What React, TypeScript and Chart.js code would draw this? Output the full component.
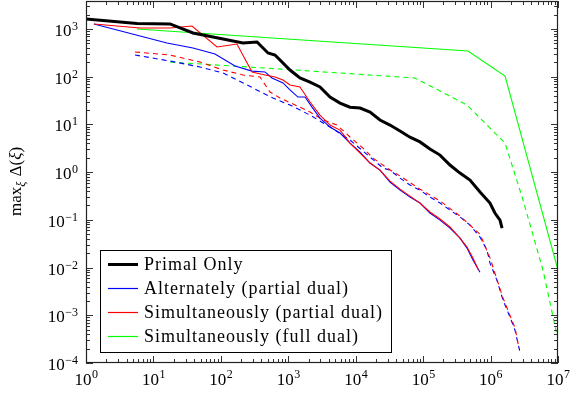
import React, { useEffect, useRef } from 'react';
import { Chart, registerables } from 'chart.js';

Chart.register(...registerables);

// ---- Data ----
const primalX = [1, 5.7, 17.6, 38.6, 213, 344, 500, 635, 753, 1060, 1490, 2100, 2950, 4160, 5850, 8230, 11600, 16300, 22900, 32200, 45400, 63800, 89800, 126000, 178000, 250000, 352000, 495000, 697000, 980000, 1160000, 1380000, 1480000];
const primalY = [1620, 1300, 1275, 825, 508, 533, 314, 285, 224, 138, 94, 77, 61, 37.5, 28, 23, 22, 18.2, 12.4, 9.7, 7.3, 5.4, 4.3, 3.05, 2.28, 1.41, 0.957, 0.68, 0.383, 0.225, 0.139, 0.099, 0.067];

const altX = [1.31, 15.9, 38.6, 81.9, 162, 290, 452, 573, 835, 1060, 1390, 1770, 2250, 2950, 4160, 5850, 8230, 11600, 16300, 22900, 32200, 45400, 63800, 89800, 126000, 178000, 250000, 352000, 447000, 548000, 697000];
const altY = [1275, 508, 400, 299, 168, 131, 126, 94, 74, 53, 37.5, 37.5, 23, 13.6, 8.8, 6.6, 4.07, 2.64, 1.55, 1.1, 0.62, 0.42, 0.30, 0.225, 0.139, 0.099, 0.067, 0.0415, 0.0256, 0.0144, 0.0080];

const simX = [1.31, 6.32, 17.6, 37.3, 87.7, 173, 290, 452, 635, 835, 1060, 1490, 2100, 2950, 4160, 5850, 8230, 11600, 16300, 22900, 32200, 45400, 63800, 89800, 126000, 178000, 250000, 352000, 447000, 548000, 660000];
const simY = [1275, 1050, 1050, 1155, 420, 485, 126, 109, 98.6, 85, 67, 61, 29.5, 15.7, 9.7, 7.6, 4.07, 2.51, 1.55, 1.1, 0.65, 0.44, 0.315, 0.225, 0.146, 0.104, 0.071, 0.0415, 0.027, 0.0158, 0.0089];

const fullX = [5.7, 463000, 1640000, 10000000];
const fullY = [1000, 346, 103.5, 0.0089];

const altDualX = [5.33, 17.6, 49.1, 108, 300, 594, 1060, 2100, 4160, 8230, 16300, 25400, 32200, 45400, 63800, 89800, 126000, 178000, 250000, 352000, 495000, 697000, 885000, 980000, 1240000, 1530000, 1940000, 2300000, 2730000];
const altDualY = [285, 213, 160, 120, 58, 35.7, 25.5, 15.7, 8.8, 4.71, 2.07, 1.22, 1.1, 0.75, 0.537, 0.42, 0.30, 0.225, 0.16, 0.115, 0.078, 0.0436, 0.0233, 0.0124, 0.00547, 0.00208, 0.000917, 0.00049, 0.000169];

const simDualX = [5.33, 17.6, 49.1, 108, 213, 380, 536, 753, 1490, 2100, 3270, 5270, 8230, 12800, 18000, 29100, 45400, 89800, 178000, 352000, 697000, 980000, 1530000, 2300000, 2650000];
const simDualY = [330, 285, 203, 138, 109, 98.6, 47.7, 35.7, 23, 18.2, 12.4, 9.7, 5.45, 3.2, 1.98, 1.22, 0.83, 0.44, 0.25, 0.12, 0.05, 0.016, 0.0023, 0.00055, 0.0002];

const fullDualX = [17.6, 753, 75700, 447000, 980000, 1640000, 3030000, 5980000, 9660000];
const fullDualY = [203, 145, 94, 25.5, 8.4, 4.07, 0.26, 0.0089, 0.000385];

const xTickExponents = [0, 1, 2, 3, 4, 5, 6, 7];
const yTickExponents = [-4, -3, -2, -1, 0, 1, 2, 3];
const legendLabels = ['Primal Only', 'Alternately (partial dual)', 'Simultaneously (partial dual)', 'Simultaneously (full dual)'];
const legendColors = ['#000000', '#0000ff', '#ff0000', '#00ff00'];

const X_MIN = 1;
const X_MAX = 1e7;
const Y_MIN = 1e-4;
const Y_MAX = Math.pow(10, 3.587);

const SERIF = '"Liberation Serif", "Times New Roman", serif';

function pts(xs: number[], ys: number[]) {
  return xs.map((x, i) => ({ x, y: ys[i] }));
}

function expStr(e: number) {
  return e < 0 ? '\u2212' + Math.abs(e) : String(e);
}

const decorPlugin = {
  id: 'decor',
  afterDatasetsDraw(chart: any) {
    const { ctx, chartArea: a } = chart;
    const xs = chart.scales.x;
    const ys = chart.scales.y;
    ctx.save();

    // ticks (inward, all four sides)
    ctx.strokeStyle = '#333';
    ctx.lineWidth = 1;
    ctx.beginPath();
    for (let d = 0; d <= 7; d++) {
      for (let k = 1; k <= 9; k++) {
        const v = k * Math.pow(10, d);
        if (v > X_MAX * 1.0001) break;
        const px = Math.round(xs.getPixelForValue(v)) + 0.5;
        const len = k === 1 ? 7 : 4;
        ctx.moveTo(px, a.bottom);
        ctx.lineTo(px, a.bottom - len);
        ctx.moveTo(px, a.top);
        ctx.lineTo(px, a.top + len);
      }
    }
    for (let d = -4; d <= 3; d++) {
      for (let k = 1; k <= 9; k++) {
        const v = k * Math.pow(10, d);
        if (v > Y_MAX) break;
        const py = Math.round(ys.getPixelForValue(v)) + 0.5;
        const len = k === 1 ? 7 : 4;
        ctx.moveTo(a.left, py);
        ctx.lineTo(a.left + len, py);
        ctx.moveTo(a.right, py);
        ctx.lineTo(a.right - len, py);
      }
    }
    ctx.stroke();

    // frame
    ctx.strokeStyle = '#222';
    ctx.lineWidth = 1.2;
    ctx.strokeRect(Math.round(a.left) + 0.5, Math.round(a.top) + 0.5, Math.round(a.right - a.left) - 1, Math.round(a.bottom - a.top) - 1);

    // tick labels
    ctx.fillStyle = '#000';
    ctx.textBaseline = 'alphabetic';
    const baseFont = '17px ' + SERIF;
    const supFont = '12px ' + SERIF;
    for (const e of xTickExponents) {
      const px = xs.getPixelForValue(Math.pow(10, e));
      ctx.font = baseFont;
      const w1 = ctx.measureText('10').width;
      ctx.font = supFont;
      const w2 = ctx.measureText(expStr(e)).width;
      const start = px - (w1 + w2) / 2;
      ctx.font = baseFont;
      ctx.textAlign = 'left';
      ctx.fillText('10', start, a.bottom + 22);
      ctx.font = supFont;
      ctx.fillText(expStr(e), start + w1 + 0.5, a.bottom + 15);
    }
    for (const e of yTickExponents) {
      const py = ys.getPixelForValue(Math.pow(10, e));
      ctx.font = supFont;
      const w2 = ctx.measureText(expStr(e)).width;
      const right = a.left - 8;
      ctx.textAlign = 'left';
      ctx.fillText(expStr(e), right - w2, py + 1);
      ctx.font = baseFont;
      const w1 = ctx.measureText('10').width;
      ctx.fillText('10', right - w2 - w1 - 0.5, py + 7);
    }

    // y axis title: max_xi Delta(xi)
    ctx.save();
    ctx.translate(21, (a.top + a.bottom) / 2);
    ctx.rotate(-Math.PI / 2);
    const parts: [string, string, number][] = [
      ['max', '17px ' + SERIF, 0],
      ['\u03be', 'italic 12px ' + SERIF, 4],
      [' \u0394(', '17px ' + SERIF, 0],
      ['\u03be', 'italic 17px ' + SERIF, 0],
      [')', '17px ' + SERIF, 0],
    ];
    let total = 0;
    for (const [t, f] of parts) {
      ctx.font = f;
      total += ctx.measureText(t).width;
    }
    let cx = -total / 2;
    ctx.textAlign = 'left';
    for (const [t, f, dy] of parts) {
      ctx.font = f;
      ctx.fillText(t, cx, dy);
      cx += ctx.measureText(t).width + (dy ? 1 : 0);
    }
    ctx.restore();

    // legend
    const lx = a.left + 14;
    const ly = a.bottom - 113;
    const lw = 291;
    const lh = 102;
    ctx.fillStyle = '#fff';
    ctx.fillRect(lx, ly, lw, lh);
    ctx.strokeStyle = '#000';
    ctx.lineWidth = 1;
    ctx.strokeRect(lx + 0.5, ly + 0.5, lw, lh);
    ctx.font = '18px ' + SERIF;
    (ctx as any).letterSpacing = '1px';
    ctx.fillStyle = '#000';
    for (let i = 0; i < legendLabels.length; i++) {
      const rowY = ly + 14 + i * 24;
      ctx.strokeStyle = legendColors[i];
      ctx.lineWidth = i === 0 ? 3 : 1.2;
      ctx.beginPath();
      ctx.moveTo(lx + 8, rowY + 0.5);
      ctx.lineTo(lx + 38, rowY + 0.5);
      ctx.stroke();
      ctx.fillText(legendLabels[i], lx + 44, rowY + 6);
    }
    (ctx as any).letterSpacing = '0px';
    ctx.restore();
  },
};

export default function App() {
  const ref = useRef<HTMLCanvasElement | null>(null);

  useEffect(() => {
    if (!ref.current) return;
    const solid = (data: any, color: string, width: number, order: number) => ({
      data,
      borderColor: color,
      backgroundColor: color,
      borderWidth: width,
      pointRadius: 0,
      tension: 0,
      fill: false,
      order,
    });
    const dashed = (data: any, color: string, order: number) => ({
      ...solid(data, color, 1.1, order),
      borderDash: [5, 4],
    });
    const chart = new Chart(ref.current, {
      type: 'line',
      data: {
        datasets: [
          solid(pts(primalX, primalY), '#000000', 3, 0),
          solid(pts(simX, simY), '#ff0000', 1.1, 1),
          solid(pts(altX, altY), '#0000ff', 1.1, 2),
          solid(pts(fullX, fullY), '#00ff00', 1.1, 3),
          dashed(pts(simDualX, simDualY), '#ff0000', 4),
          dashed(pts(altDualX, altDualY), '#0000ff', 5),
          dashed(pts(fullDualX, fullDualY), '#00ff00', 6),
        ] as any,
      },
      options: {
        animation: false,
        responsive: false,
        maintainAspectRatio: false,
        parsing: false as any,
        layout: { padding: { left: 86, right: 18, top: 1, bottom: 32 } },
        plugins: { legend: { display: false }, tooltip: { enabled: false } },
        scales: {
          x: { type: 'logarithmic', min: X_MIN, max: X_MAX, display: false },
          y: { type: 'logarithmic', min: Y_MIN, max: Y_MAX, display: false },
        },
      },
      plugins: [decorPlugin],
    });
    return () => chart.destroy();
  }, []);

  return (
    <div style={{ position: 'fixed', left: 0, top: 0, width: 576, height: 395, background: '#fff' }}>
      <canvas ref={ref} width={576} height={395} style={{ width: 576, height: 395, display: 'block' }} />
    </div>
  );
}
